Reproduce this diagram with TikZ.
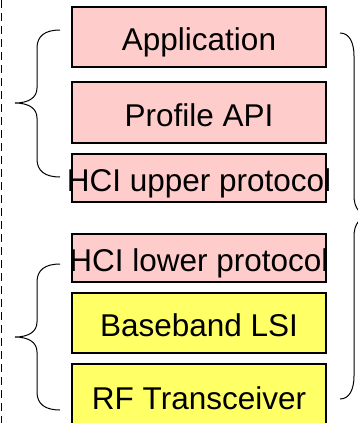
\documentclass[tikz,border=0pt]{standalone}
\usepackage{fontspec}
\setmainfont{Liberation Sans}
\definecolor{boxpink}{HTML}{FFCCCC}
\definecolor{boxyellow}{HTML}{FFFF66}
\begin{document}
\begin{tikzpicture}[x=1pt,y=-1pt,
  layerbox/.style={draw=black, line width=1.3pt, minimum width=254pt, inner sep=0pt, outer sep=0pt},
  layertext/.style={inner sep=0pt, font=\fontsize{31.5}{36}\selectfont, text height=27pt, text depth=0pt},
  bracestyle/.style={draw=black, line width=1pt},
  sideline/.style={draw=black, line width=1.4pt, dash pattern=on 8pt off 5pt}]
\useasboundingbox (0,0) rectangle (358,423);
\clip (0,0) rectangle (358,423);
% dashed side line
\coordinate (dtop) at (1.5,0);
\coordinate (dbot) at (1.5,423);
\draw[sideline] (dtop) -- (dbot);
% boxes
\node[layerbox, fill=boxpink, minimum height=60pt] (app) at (199,37) {};
\node[layerbox, fill=boxpink, minimum height=61pt] (prof) at (199,112.5) {};
\node[layerbox, fill=boxpink, minimum height=48pt] (hciu) at (199,178) {};
\node[layerbox, fill=boxpink, minimum height=48pt] (hcil) at (199,258) {};
\node[layerbox, fill=boxyellow, minimum height=60pt] (bb) at (199,323) {};
\node[layerbox, fill=boxyellow, minimum height=64pt] (rf) at (199,396) {};
% texts
\node[layertext] (appt) at (app.center) {Application};
\node[layertext] (proft) at (prof.center) {Profile API};
\node[layertext] (hciut) at (hciu.center) {HCI upper protocol};
\node[layertext] (hcilt) at (hcil.center) {HCI lower protocol};
\node[layertext] (bbt) at (bb.center) {Baseband LSI};
\node[layertext] (rft) at (rf.center) {RF Transceiver};
% left brace 1
\coordinate (b1t) at (60,30);
\coordinate (b1m) at (15,103);
\coordinate (b1b) at (60,177);
\draw[bracestyle] (b1t) .. controls (45,30) and (37,36) .. (37,48)
  -- (37,88) .. controls (37,98) and (28,103) .. (b1m)
  .. controls (28,103) and (37,108) .. (37,118)
  -- (37,159) .. controls (37,171) and (45,177) .. (b1b);
% left brace 2
\coordinate (b2t) at (60,264);
\coordinate (b2m) at (15,337);
\coordinate (b2b) at (60,410);
\draw[bracestyle] (b2t) .. controls (45,264) and (37,270) .. (37,282)
  -- (37,322) .. controls (37,332) and (28,337) .. (b2m)
  .. controls (28,337) and (37,342) .. (37,352)
  -- (37,392) .. controls (37,404) and (45,410) .. (b2b);
% right brace
\coordinate (b3t) at (340,33);
\coordinate (b3m) at (372,216);
\coordinate (b3b) at (340,399);
\draw[bracestyle] (b3t) .. controls (349,33) and (354,42) .. (354,56)
  -- (354,196) .. controls (354,208) and (360,216) .. (b3m)
  .. controls (360,216) and (354,224) .. (354,236)
  -- (354,376) .. controls (354,390) and (349,399) .. (b3b);
\end{tikzpicture}
\end{document}
